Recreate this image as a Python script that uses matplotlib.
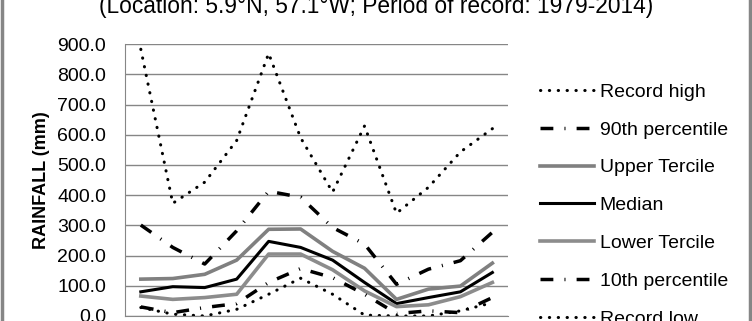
import matplotlib.pyplot as plt
from matplotlib.lines import Line2D

plt.rcParams['font.family'] = ['Liberation Sans', 'DejaVu Sans']

months = ['Jan', 'Feb', 'Mar', 'Apr', 'May', 'Jun', 'Jul', 'Aug', 'Sep', 'Oct', 'Nov', 'Dec']
record_high = [883, 373, 443, 581, 869, 590, 410, 629, 340, 426, 543, 620]
pct90 = [301, 227, 172, 282, 413, 393, 293, 238, 105, 155, 183, 277]
upper_tercile = [122, 124, 138, 185, 287, 288, 214, 158, 55, 89, 99, 175]
median = [80, 97, 94, 122, 247, 227, 185, 111, 41, 61, 80, 144]
lower_tercile = [66, 55, 61, 72, 205, 205, 153, 83, 31, 37, 64, 111]
pct10 = [30, 11, 28, 41, 111, 157, 127, 72, 8, 17, 11, 61]
record_low = [28, 6, 0, 22, 72, 125, 72, 3, 0, 0, 17, 44]

fig = plt.figure(figsize=(7.52, 3.21), dpi=100)
ax = fig.add_axes([0.166, 0.0156, 0.51, 0.847])

x = range(len(months))
dot = (0, (0.1, 2.8))
dashdot = (0, (3.7, 3.2, 0.3, 3.2))

ax.plot(x, record_high, color='black', lw=2.2, linestyle=dot, dash_capstyle='round', label='Record high')
ax.plot(x, pct90, color='black', lw=2.5, linestyle=dashdot, label='90th percentile')
ax.plot(x, upper_tercile, color='#808080', lw=2.6, label='Upper Tercile')
ax.plot(x, median, color='black', lw=2.2, label='Median')
ax.plot(x, lower_tercile, color='#8c8c8c', lw=2.6, label='Lower Tercile')
ax.plot(x, pct10, color='black', lw=2.5, linestyle=dashdot, label='10th percentile')
ax.plot(x, record_low, color='black', lw=2.2, linestyle=dot, dash_capstyle='round', label='Record low')

ax.set_xlim(-0.5, 11.5)
ax.set_ylim(0, 900)
ax.set_yticks(range(0, 901, 100))
ax.set_yticklabels([f'{v:.1f}' for v in range(0, 901, 100)], fontsize=14)
ax.set_xticks([])
ax.grid(axis='y', color='#868686', lw=1)
ax.set_axisbelow(True)
for s in ['top', 'right']:
    ax.spines[s].set_visible(False)
ax.spines['left'].set_color('#868686')
ax.spines['bottom'].set_color('#868686')
ax.tick_params(axis='y', length=0, pad=13.5)
ax.set_ylabel('RAINFALL (mm)', fontsize=13, fontweight='bold', labelpad=5)

fig.text(0.5, 0.9595, '(Location: 5.9\u00b0N, 57.1\u00b0W; Period of record: 1979-2014)',
         ha='center', va='baseline', fontsize=16.4)

ax.legend(loc='upper left', bbox_to_anchor=(1.063, 0.885), frameon=False, fontsize=14,
          handlelength=2.75, handletextpad=0.3, labelspacing=1.04, borderaxespad=0)

for xpos in [0.002, 0.998]:
    fig.add_artist(Line2D([xpos, xpos], [0, 1], color='#868686', lw=2.5, transform=fig.transFigure))

fig.savefig('out.png', dpi=100)
